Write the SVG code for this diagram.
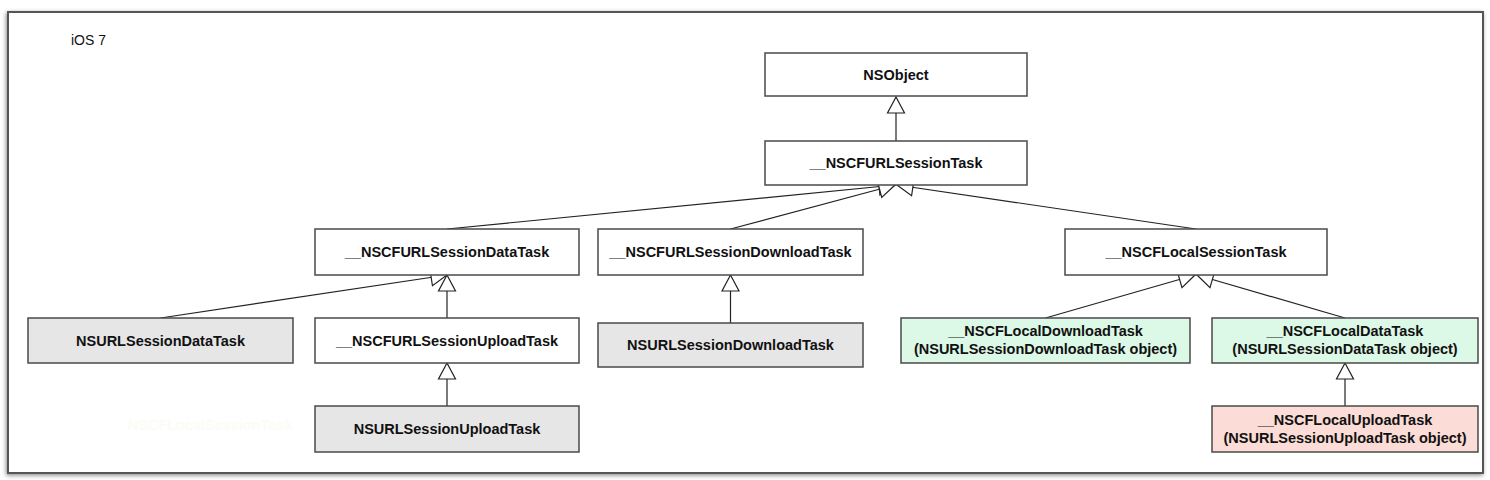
<svg xmlns="http://www.w3.org/2000/svg" width="1490" height="480" viewBox="0 0 1490 480">
  <defs>
    <filter id="shadow" x="-5%" y="-5%" width="110%" height="115%">
      <feDropShadow dx="-1" dy="1.5" stdDeviation="2" flood-color="#000" flood-opacity="0.45"/>
    </filter>
    <marker id="tri" viewBox="-17 -10 18 20" markerWidth="18" markerHeight="20" refX="0" refY="0" orient="auto" markerUnits="userSpaceOnUse">
      <path d="M0,0 L-16,-8.5 L-16,8.5 Z" fill="#fff" stroke="#222" stroke-width="1.2" stroke-linejoin="miter"/>
    </marker>
    <style>
      .box { stroke: #4a4a4a; stroke-width: 1.5; fill: #fff; }
      .grey { fill: #e6e6e6; }
      .green { fill: #dcf8e6; }
      .pink { fill: #fbdcd6; }
      .lbl { font-family: "Liberation Sans", Arial, Helvetica, sans-serif; font-weight: bold; font-size: 14.5px; fill: #111; text-anchor: middle; }
      .faint { fill: #fafdf4; }
      .edge { stroke: #222; stroke-width: 1.2; fill: none; marker-end: url(#tri); }
    </style>
  </defs>
  <rect x="0" y="0" width="1490" height="480" fill="#fff"/>
  <rect id="frame" x="8" y="12" width="1475" height="461" fill="#fff" stroke="#555" stroke-width="2" filter="url(#shadow)"/>
  <text x="71" y="45" font-family="Liberation Sans, Arial, sans-serif" font-size="14" fill="#111">iOS 7</text>
  <text x="210" y="430" class="lbl faint">NSCFLocalSessionTask</text>

  <g id="connectors">
    <path class="edge" d="M896,141 L896,97"/>
    <path class="edge" d="M447,229 L895,185"/>
    <path class="edge" d="M730.5,229 L895,185"/>
    <path class="edge" d="M1196,229 L897,185"/>
    <path class="edge" d="M160.5,318 L447,275"/>
    <path class="edge" d="M447,318 L447,275"/>
    <path class="edge" d="M730.5,323 L730.5,275"/>
    <path class="edge" d="M447,406 L447,363"/>
    <path class="edge" d="M1045.5,318 L1195,275"/>
    <path class="edge" d="M1345,318 L1197,275"/>
    <path class="edge" d="M1345,406 L1345,363"/>
  </g>

  <g id="NSObject">
    <rect class="box" x="765" y="53" width="262" height="43"/>
    <text class="lbl" x="896" y="80">NSObject</text>
  </g>
  <g id="NSCFURLSessionTask">
    <rect class="box" x="765" y="141" width="262" height="44"/>
    <text class="lbl" x="896" y="168">__NSCFURLSessionTask</text>
  </g>
  <g id="NSCFURLSessionDataTask">
    <rect class="box" x="315" y="229" width="264" height="46"/>
    <text class="lbl" x="447" y="257">__NSCFURLSessionDataTask</text>
  </g>
  <g id="NSCFURLSessionDownloadTask">
    <rect class="box" x="598" y="229" width="265" height="46"/>
    <text class="lbl" x="730.5" y="257">__NSCFURLSessionDownloadTask</text>
  </g>
  <g id="NSCFLocalSessionTask">
    <rect class="box" x="1065" y="229" width="262" height="46"/>
    <text class="lbl" x="1196" y="257">__NSCFLocalSessionTask</text>
  </g>
  <g id="NSURLSessionDataTask">
    <rect class="box grey" x="28" y="318" width="265" height="45"/>
    <text class="lbl" x="160.5" y="346">NSURLSessionDataTask</text>
  </g>
  <g id="NSCFURLSessionUploadTask">
    <rect class="box" x="315" y="318" width="264" height="45"/>
    <text class="lbl" x="447" y="346">__NSCFURLSessionUploadTask</text>
  </g>
  <g id="NSURLSessionUploadTask">
    <rect class="box grey" x="315" y="406" width="264" height="46"/>
    <text class="lbl" x="447" y="434">NSURLSessionUploadTask</text>
  </g>
  <g id="NSURLSessionDownloadTask">
    <rect class="box grey" x="598" y="323" width="265" height="44"/>
    <text class="lbl" x="730.5" y="350">NSURLSessionDownloadTask</text>
  </g>
  <g id="NSCFLocalDownloadTask">
    <rect class="box green" x="901" y="318" width="289" height="45"/>
    <text class="lbl" x="1045.5" y="336">__NSCFLocalDownloadTask</text>
    <text class="lbl" x="1045.5" y="354">(NSURLSessionDownloadTask object)</text>
  </g>
  <g id="NSCFLocalDataTask">
    <rect class="box green" x="1212" y="318" width="266" height="45"/>
    <text class="lbl" x="1345" y="336">__NSCFLocalDataTask</text>
    <text class="lbl" x="1345" y="354">(NSURLSessionDataTask object)</text>
  </g>
  <g id="NSCFLocalUploadTask">
    <rect class="box pink" x="1212" y="406" width="266" height="46"/>
    <text class="lbl" x="1345" y="425">__NSCFLocalUploadTask</text>
    <text class="lbl" x="1345" y="443">(NSURLSessionUploadTask object)</text>
  </g>
</svg>
